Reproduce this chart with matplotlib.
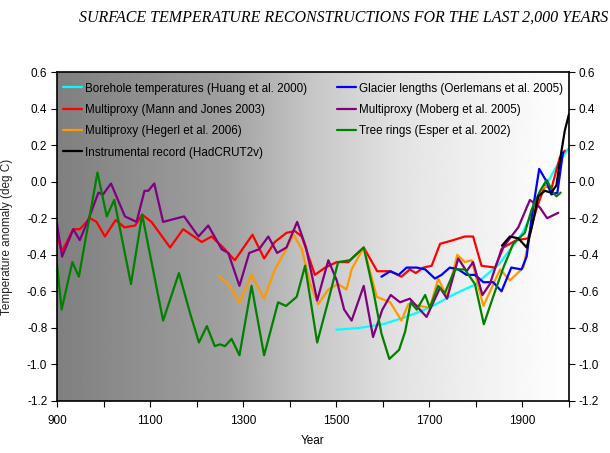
import numpy as np
import matplotlib
matplotlib.use("Agg")
import matplotlib.pyplot as plt

# series (year, deg C anomaly)
borehole_yr = [1500, 1550, 1600, 1650, 1700, 1750, 1800, 1850, 1900, 1944, 1970, 1998]
borehole_t = [-0.81, -0.80, -0.78, -0.74, -0.69, -0.62, -0.56, -0.45, -0.28, -0.05, 0.07, 0.18]

mann_yr = [900, 911, 935, 949, 971, 985, 1003, 1026, 1045, 1068, 1083, 1103, 1143, 1171, 1211,
           1232, 1257, 1282, 1320, 1345, 1368, 1393, 1411, 1426, 1454, 1476, 1501, 1526, 1538,
           1559, 1588, 1616, 1640, 1658, 1671, 1687, 1705, 1723, 1751, 1776, 1794, 1812, 1841,
           1859, 1887, 1912, 1930, 1948, 1962, 1980, 1991]
mann_t = [-0.30, -0.38, -0.26, -0.26, -0.20, -0.22, -0.30, -0.21, -0.25, -0.24, -0.18, -0.22,
          -0.36, -0.26, -0.33, -0.30, -0.36, -0.43, -0.29, -0.42, -0.33, -0.28, -0.27, -0.30,
          -0.51, -0.47, -0.44, -0.44, -0.41, -0.36, -0.49, -0.49, -0.52, -0.48, -0.50, -0.47,
          -0.46, -0.34, -0.32, -0.30, -0.30, -0.46, -0.47, -0.36, -0.32, -0.31, -0.15, -0.02,
          -0.04, 0.13, 0.17]

hegerl_yr = [1249, 1268, 1292, 1318, 1345, 1368, 1390, 1408, 1426, 1444, 1461, 1483, 1504, 1522,
             1533, 1559, 1587, 1616, 1640, 1655, 1680, 1701, 1719, 1738, 1760, 1776, 1791, 1816,
             1852, 1873, 1902, 1912, 1927, 1941, 1955, 1960]
hegerl_t = [-0.52, -0.56, -0.66, -0.51, -0.64, -0.48, -0.38, -0.29, -0.37, -0.56, -0.67, -0.59,
            -0.56, -0.59, -0.48, -0.36, -0.63, -0.66, -0.76, -0.67, -0.68, -0.69, -0.53, -0.63,
            -0.40, -0.44, -0.43, -0.68, -0.48, -0.54, -0.47, -0.34, -0.14, -0.04, -0.02, -0.03]

hadcrut_yr = [1856, 1873, 1891, 1909, 1920, 1934, 1948, 1962, 1973, 1982, 1991, 2000]
hadcrut_t = [-0.35, -0.30, -0.31, -0.36, -0.25, -0.08, -0.05, -0.06, -0.02, 0.14, 0.28, 0.37]

glacier_yr = [1597, 1616, 1634, 1651, 1673, 1691, 1712, 1726, 1744, 1762, 1780, 1798, 1816,
              1837, 1855, 1876, 1898, 1909, 1920, 1936, 1952, 1962, 1975, 1987]
glacier_t = [-0.52, -0.49, -0.51, -0.47, -0.47, -0.48, -0.53, -0.51, -0.47, -0.48, -0.51, -0.51,
             -0.55, -0.55, -0.60, -0.47, -0.48, -0.41, -0.19, 0.07, 0.00, -0.07, -0.06, 0.16]

moberg_yr = [900, 911, 935, 949, 967, 989, 999, 1016, 1046, 1071, 1088, 1096, 1109, 1128, 1173,
             1204, 1225, 1254, 1268, 1292, 1313, 1334, 1354, 1373, 1393, 1416, 1435, 1459, 1483,
             1501, 1517, 1533, 1559, 1579, 1599, 1617, 1637, 1658, 1694, 1723, 1738, 1762, 1780,
             1794, 1814, 1830, 1855, 1891, 1916, 1937, 1953, 1977]
moberg_t = [-0.23, -0.41, -0.26, -0.32, -0.21, -0.06, -0.07, -0.01, -0.19, -0.22, -0.05, -0.05,
            -0.01, -0.22, -0.19, -0.30, -0.24, -0.37, -0.39, -0.57, -0.39, -0.37, -0.30, -0.39,
            -0.36, -0.22, -0.36, -0.65, -0.43, -0.54, -0.70, -0.76, -0.57, -0.85, -0.70, -0.62,
            -0.66, -0.64, -0.74, -0.58, -0.64, -0.42, -0.49, -0.44, -0.62, -0.56, -0.37, -0.25,
            -0.10, -0.14, -0.20, -0.17]

esper_yr = [900, 910, 933, 947, 987, 1007, 1023, 1059, 1083, 1128, 1162, 1186, 1205, 1222, 1239,
            1250, 1261, 1275, 1292, 1318, 1345, 1375, 1392, 1415, 1433, 1459, 1483, 1504, 1529,
            1559, 1579, 1597, 1614, 1635, 1648, 1660, 1673, 1691, 1701, 1719, 1733, 1755, 1776,
            1798, 1817, 1837, 1859, 1880, 1905, 1920, 1938, 1952, 1966, 1973, 1982]
esper_t = [-0.45, -0.70, -0.44, -0.52, 0.05, -0.19, -0.10, -0.56, -0.18, -0.76, -0.50, -0.72,
           -0.88, -0.79, -0.90, -0.89, -0.90, -0.86, -0.95, -0.57, -0.95, -0.66, -0.68, -0.63,
           -0.46, -0.88, -0.65, -0.44, -0.43, -0.36, -0.59, -0.83, -0.97, -0.92, -0.82, -0.66,
           -0.70, -0.62, -0.69, -0.57, -0.61, -0.48, -0.48, -0.56, -0.78, -0.63, -0.47, -0.34,
           -0.28, -0.15, -0.05, 0.01, -0.06, -0.08, -0.06]

xticks = list(range(900, 2001, 100))
xticklabels = ["900", "", "1100", "", "1300", "", "1500", "", "1700", "", "1900", ""]
yticks = [-1.2, -1.0, -0.8, -0.6, -0.4, -0.2, 0.0, 0.2, 0.4, 0.6]

fig = plt.figure(figsize=(6.1, 4.53), dpi=100)
ax = fig.add_axes([0.0934, 0.1148, 0.8394, 0.7262])

# grey-to-white background
pos = np.linspace(0, 1, 256)
grad = np.interp(pos, [0, 0.33, 0.5, 0.67, 0.9, 1.0], [0.5, 0.63, 0.78, 0.89, 0.97, 1.0]).reshape(1, -1)
ax.imshow(grad, extent=[900, 2000, -1.2, 0.6], aspect="auto", cmap="gray",
          vmin=0, vmax=1, zorder=0, interpolation="bilinear")

lw = 1.6
kw = dict(lw=lw, solid_joinstyle="round", solid_capstyle="round")
ax.plot(borehole_yr, borehole_t, color="#00ffff", label="Borehole temperatures (Huang et al. 2000)", **kw)
ax.plot(mann_yr, mann_t, color="#ff0000", label="Multiproxy (Mann and Jones 2003)", **kw)
ax.plot(hegerl_yr, hegerl_t, color="#ff9900", label="Multiproxy (Hegerl et al. 2006)", **kw)
ax.plot(hadcrut_yr, hadcrut_t, color="black", label="Instrumental record (HadCRUT2v)", zorder=5, **kw)
ax.plot(glacier_yr, glacier_t, color="#0000ff", label="Glacier lengths (Oerlemans et al. 2005)", **kw)
ax.plot(moberg_yr, moberg_t, color="#800080", label="Multiproxy (Moberg et al. 2005)", **kw)
ax.plot(esper_yr, esper_t, color="#008000", label="Tree rings (Esper et al. 2002)", **kw)

ax.set_xlim(900, 2000)
ax.set_ylim(-1.2, 0.6)
ax.set_xticks(xticks)
ax.set_xticklabels(xticklabels)
ax.set_yticks(yticks)
ax.set_yticklabels(["%.1f" % v for v in yticks])
ax.tick_params(direction="out", length=4, labelsize=8.5, right=True, labelright=True,
               labelfontfamily="Liberation Sans", pad=3)
ax.tick_params(axis="x", pad=6)
for s in ax.spines.values():
    s.set_linewidth(1.2)

ax.set_xlabel("Year", fontsize=8.5, family="Liberation Sans", labelpad=6)
fig.text(0.011, 0.478, "Temperature anomaly (deg C)", rotation=90, ha="center", va="center",
         fontsize=8.5, family="Liberation Sans", color="#222222")

leg = ax.legend(ncol=2, loc="upper left", frameon=False, prop={"family": "Liberation Sans", "size": 8.4},
                handlelength=1.6, handletextpad=0.25, columnspacing=2.6, labelspacing=0.8,
                borderaxespad=0.5, bbox_to_anchor=(-0.008, 1.0))

fig.text(0.997, 0.962, "SURFACE TEMPERATURE RECONSTRUCTIONS FOR THE LAST 2,000 YEARS",
         ha="right", va="center", fontsize=11.5, family="Liberation Serif", style="italic")

fig.savefig("out.png", dpi=100)
